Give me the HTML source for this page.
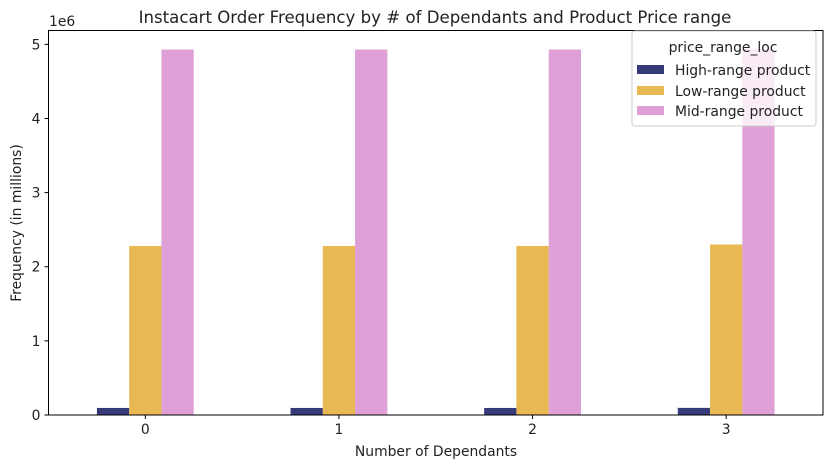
<!DOCTYPE html>
<html><head><meta charset="utf-8"><style>
body{margin:0;background:#fff;font-family:"Liberation Sans","DejaVu Sans",sans-serif;}
svg text{font-family:"DejaVu Sans","Liberation Sans",sans-serif;fill:#222;}
</style></head><body>
<svg id="chart" width="833" height="468" viewBox="0 0 833 468" xmlns="http://www.w3.org/2000/svg">
<rect width="833" height="468" fill="#fff"/>
<g id="bars"></g>
<g id="axes"></g>
<text x="435" y="23" text-anchor="middle" font-size="16.6">Instacart Order Frequency by # of Dependants and Product Price range</text>
<text x="436" y="456" text-anchor="middle" font-size="13.9">Number of Dependants</text>
<text transform="translate(21,223) rotate(-90)" text-anchor="middle" font-size="13.9">Frequency (in millions)</text>
<text x="49" y="26" font-size="13.9">1e6</text>
<g>
<rect x="632" y="31" width="184" height="95" rx="3" fill="#fff" fill-opacity="0.8" stroke="#ccc"/>
<text x="723" y="52" text-anchor="middle" font-size="13.9">price_range_loc</text>
<g><rect x="637" y="65" width="27" height="9" fill="#363a78"/><text x="675" y="75" font-size="13.9">High-range product</text></g>
<g><rect x="637" y="86" width="27" height="9" fill="#e8b952"/><text x="675" y="96" font-size="13.9">Low-range product</text></g>
<g><rect x="637" y="106" width="27" height="9" fill="#dea0d6"/><text x="675" y="116" font-size="13.9">Mid-range product</text></g>
</g>
</svg>
<script>
const categories = ["0","1","2","3"];
const highRange = [0.095e6, 0.095e6, 0.095e6, 0.096e6];
const lowRange = [2.28e6, 2.28e6, 2.28e6, 2.30e6];
const midRange = [4.93e6, 4.93e6, 4.93e6, 4.94e6];
const yTicks = [0,1,2,3,4,5];
const seriesNames = ["high","low","mid"];
const colors = ["#363a78","#e8b952","#dea0d6"];

const L=48.5,R=823,T=30.5,B=415;
const ymax=5.187e6;
const NS="http://www.w3.org/2000/svg";
function xPos(i){return L+(i+0.5)*(R-L)/categories.length;}
function yPos(v){return B-(v/ymax)*(B-T);}
const unit=(R-L)/categories.length, bw=unit*0.5/3;
const bars=document.getElementById('bars');
[highRange,lowRange,midRange].forEach((s,k)=>{
  s.forEach((v,i)=>{
    const r=document.createElementNS(NS,'rect');
    const x=xPos(i)-1.5*bw+k*bw;
    r.setAttribute('x',x);r.setAttribute('width',bw);
    r.setAttribute('y',yPos(v));r.setAttribute('height',B-yPos(v));
    r.setAttribute('fill',colors[k]);
    
    
    bars.appendChild(r);
  });
});
const ax=document.getElementById('axes');
function add(tag,attrs,txt){const e=document.createElementNS(NS,tag);for(const a in attrs)e.setAttribute(a,attrs[a]);if(txt!==undefined)e.textContent=txt;ax.appendChild(e);return e;}
const frame=add('rect',{x:L,y:T,width:R-L,height:B-T,fill:'none',stroke:'#000','stroke-width':1});


yTicks.forEach(t=>{
  const y=yPos(t*1e6);
  add('line',{x1:L-4,x2:L,y1:y,y2:y,stroke:'#000'});
  const tx=add('text',{x:L-8,y:y+5,'text-anchor':'end','font-size':13.9},String(t));
  
  
});
categories.forEach((c,i)=>{
  const x=xPos(i);
  add('line',{x1:x,x2:x,y1:B,y2:B+4,stroke:'#000'});
  const tx=add('text',{x:x,y:B+19,'text-anchor':'middle','font-size':13.9},c);
  
  
});
</script>
</body></html>
